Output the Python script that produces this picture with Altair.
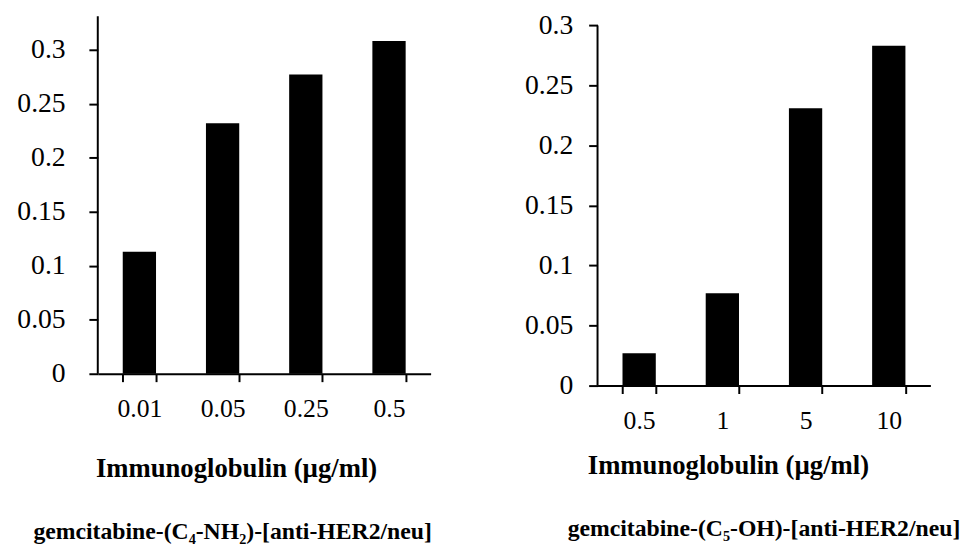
import altair as alt
import pandas as pd

# ---- data ----
left_conc = ["0.01", "0.05", "0.25", "0.5"]
left_vals = [0.113, 0.232, 0.277, 0.308]
right_conc = ["0.5", "1", "5", "10"]
right_vals = [0.027, 0.077, 0.231, 0.283]
y_ticks = [0, 0.05, 0.1, 0.15, 0.2, 0.25, 0.3]
x_title = "Immunoglobulin (µg/ml)"
left_sub = "gemcitabine-(C₄-NH₂)-[anti-HER2/neu]"
right_sub = "gemcitabine-(C₅-OH)-[anti-HER2/neu]"

FONT = "Liberation Serif"


def panel(cats, vals, ymax, axis_top, ylabpad, tx, ty, sub, sub_dx, height):
    df = pd.DataFrame({"c": cats, "v": vals})
    bars = (
        alt.Chart(df)
        .mark_bar(color="black")
        .encode(
            x=alt.X(
                "c:N", sort=cats,
                scale=alt.Scale(paddingInner=0.6, paddingOuter=0.3),
                axis=alt.Axis(
                    title=x_title, labelAngle=0, tickBand="extent",
                    labelFont=FONT, labelFontSize=26, labelColor="black",
                    labelPadding=14, tickSize=8, tickWidth=2, tickColor="black",
                    domainColor="black", domainWidth=2,
                    titleFont=FONT, titleFontSize=27, titleFontWeight="bold",
                    titleColor="black", titleX=tx, titleY=ty,
                    titleBaseline="middle", titleAlign="center", titleAnchor="start",
                ),
            ),
            y=alt.Y(
                "v:Q",
                scale=alt.Scale(domain=[0, ymax], nice=False, zero=True),
                axis=alt.Axis(
                    values=y_ticks, format="~g", title=None, grid=False, domain=False,
                    labelFont=FONT, labelFontSize=28, labelColor="black",
                    labelPadding=ylabpad, tickSize=9, tickWidth=2, tickColor="black",
                ),
            ),
        )
    )
    axis_line = (
        alt.Chart(pd.DataFrame({"y0": [0], "y1": [axis_top]}))
        .mark_rule(color="black", strokeWidth=2)
        .encode(x=alt.value(0), y="y0:Q", y2="y1:Q")
    )
    return alt.layer(
        bars, axis_line,
        title=alt.TitleParams(
            sub, orient="bottom", anchor="middle", dx=sub_dx, offset=39,
            font=FONT, fontSize=24, fontWeight="bold", color="black",
        ),
    ).properties(width=337, height=height)


left = panel(left_conc, left_vals, 0.331, 0.331, 24, 140, 96, left_sub, -32, 362)
right = panel(right_conc, right_vals, 0.3077, 0.3, 16, 132, 81, right_sub, 0, 374)

chart = (
    alt.hconcat(left, right, spacing=93)
    .properties(padding={"left": 17, "top": 8, "right": 0, "bottom": 0}, background="white")
    .configure_view(stroke=None)
    .configure_axisX(grid=False)
)

chart.save("out.html", embed_options={"renderer": "svg", "actions": False})
